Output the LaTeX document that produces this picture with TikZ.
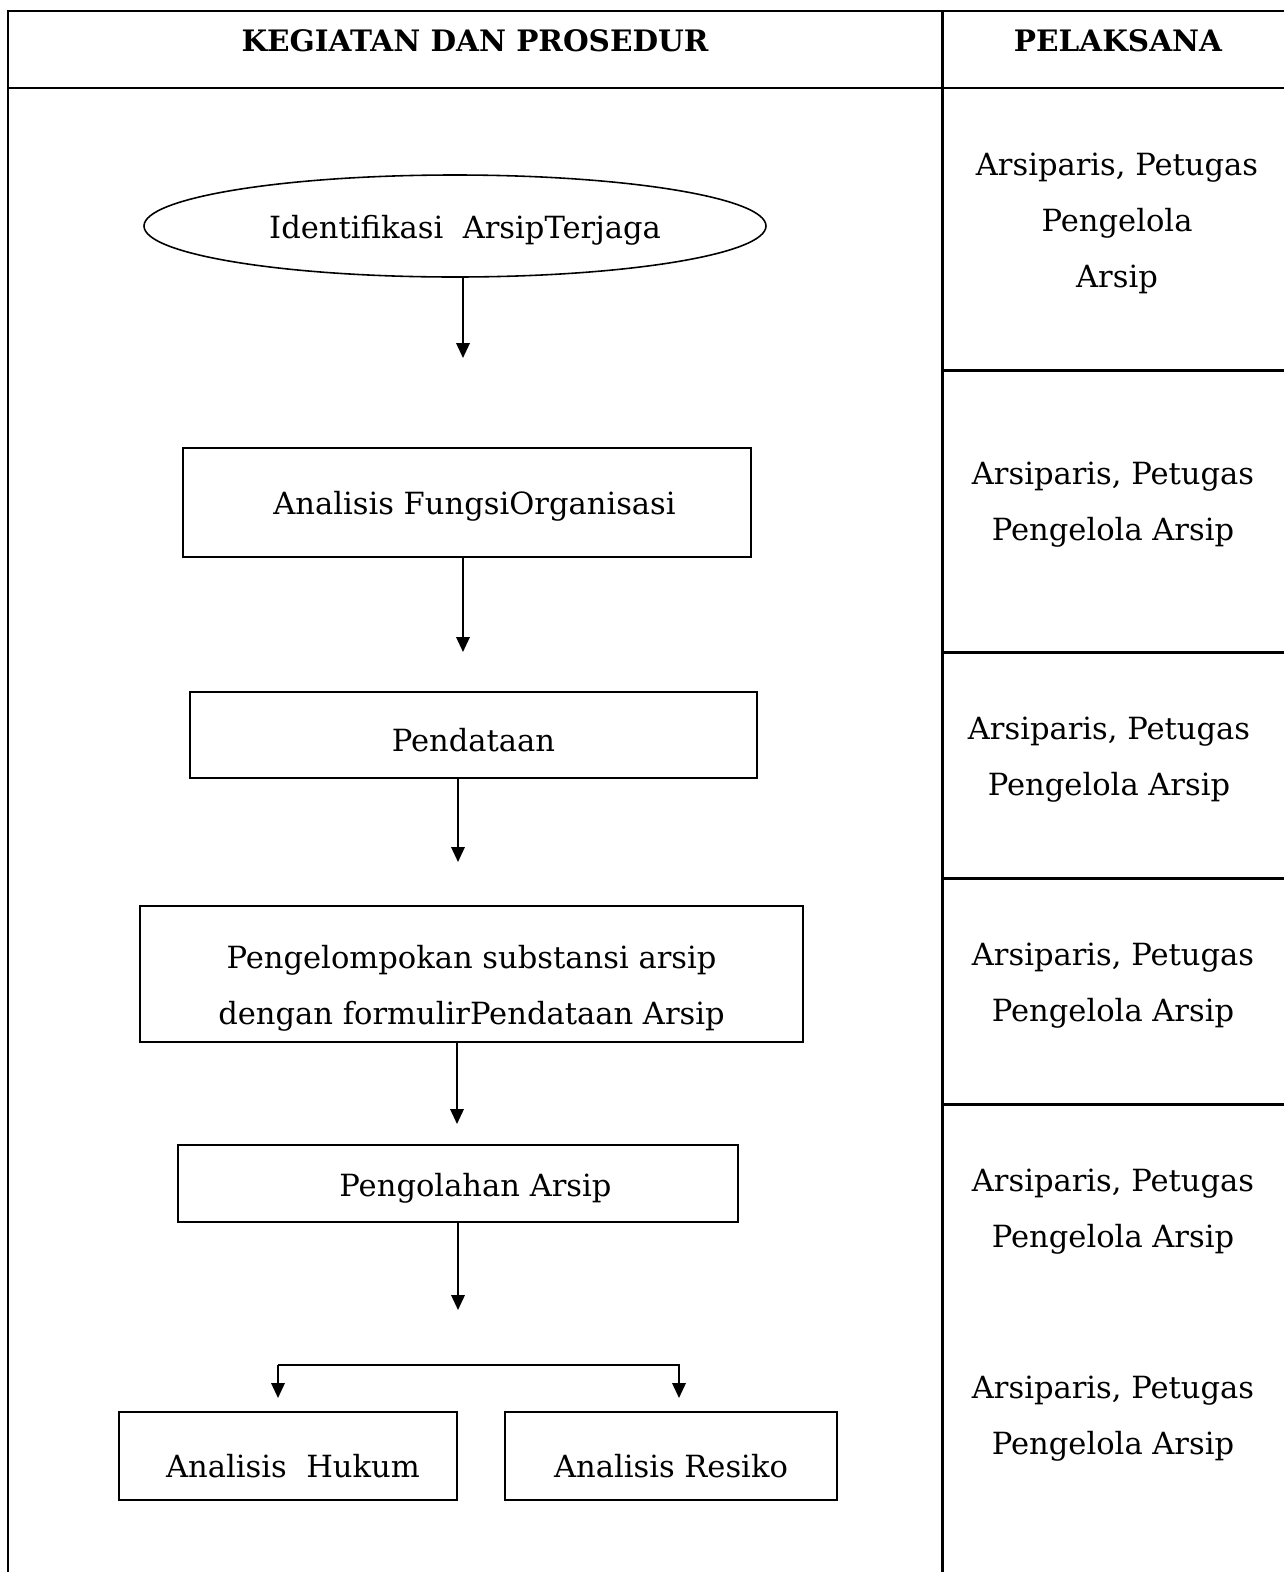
\documentclass[tikz,border=0pt]{standalone}
\usepackage{fontspec}
\setmainfont{DejaVu Serif}
\usepackage{tikz}
\usetikzlibrary{arrows.meta,shapes.geometric}
\newcommand{\down}[2]{\raisebox{-#1}[\height][\depth]{#2}}

\begin{document}
\begin{tikzpicture}[x=0.2mm,y=-0.2mm,font=\fontsize{17.4}{31.9}\selectfont,
  grid/.style={line width=1.7pt},
  box/.style={draw,line width=1.1pt,inner sep=0pt},
  arr/.style={line width=1.1pt,-{Triangle[length=3mm,width=2.7mm]}},
  who/.style={align=center}]
\useasboundingbox (0,0) rectangle (1284,1572);
% table
\draw[grid] (1284,11) -- (8,11) -- (8,1572);
\draw[grid] (942,11) -- (942,1572);
\draw[grid] (8,88) -- (1284,88);
\foreach \y in {370,652,878,1104} \draw[grid] (942,\y) -- (1284,\y);
\node[font=\fontsize{16.8}{20}\bfseries] (hkeg) at (475,41) {KEGIATAN DAN PROSEDUR};
\node[font=\fontsize{16.8}{20}\bfseries] (hpel) at (1118,41) {PELAKSANA};

% flow
\node[box,ellipse,line width=0.9pt,minimum width=124.4mm,minimum height=20.4mm] (ident) at (455,226) {\hspace{4mm}\down{0.8mm}{Identifikasi\ \ ArsipTerjaga}};
\node[box,minimum width=113.6mm,minimum height=21.8mm] (fungsi) at (467,502.5) {\hspace{3mm}\down{0.8mm}{Analisis FungsiOrganisasi}};
\node[box,minimum width=113.4mm,minimum height=17.2mm] (data) at (473.5,735) {\down{1mm}{Pendataan}};
\node[box,minimum width=132.6mm,minimum height=27.2mm,align=center] (kelompok) at (471.5,974)
  {\down{2.8mm}{Pengelompokan substansi arsip}\\\down{2.8mm}{dengan formulirPendataan Arsip}};
\node[box,minimum width=112mm,minimum height=15.4mm] (olah) at (458,1183.5) {\hspace{7mm}\down{1mm}{Pengolahan Arsip}};
\node[box,minimum width=67.6mm,minimum height=17.6mm] (hukum) at (288,1456) {\hspace{2mm}\down{2mm}{Analisis\ \ Hukum}};
\node[box,minimum width=66.4mm,minimum height=17.6mm] (resiko) at (671,1456) {\down{2mm}{Analisis Resiko}};

\coordinate (a1) at (463,358);
\coordinate (a2) at (463,652);
\coordinate (a3) at (458,862);
\coordinate (a4) at (457,1124);
\coordinate (a5) at (458,1310);
\coordinate (bl) at (278,1398);
\coordinate (br) at (679,1398);
\draw[arr] (ident.south -| a1) -- (a1);
\draw[arr] (fungsi.south -| a2) -- (a2);
\draw[arr] (data.south -| a3) -- (a3);
\draw[arr] (kelompok.south -| a4) -- (a4);
\draw[arr] (olah.south -| a5) -- (a5);
\draw[arr] (278,1365) -- (bl);
\draw[arr] (278,1365) -- (679,1365) -- (br);

% pelaksana
\node[who] (p1) at (1117,223) {Arsiparis, Petugas\\Pengelola\\Arsip};
\node[who] (p2) at (1113,505) {Arsiparis, Petugas\\Pengelola Arsip};
\node[who] (p3) at (1109,760) {Arsiparis, Petugas\\Pengelola Arsip};
\node[who] (p4) at (1113,986) {Arsiparis, Petugas\\Pengelola Arsip};
\node[who] (p5) at (1113,1212) {Arsiparis, Petugas\\Pengelola Arsip};
\node[who] (p6) at (1113,1419) {Arsiparis, Petugas\\Pengelola Arsip};
\end{tikzpicture}
\end{document}
